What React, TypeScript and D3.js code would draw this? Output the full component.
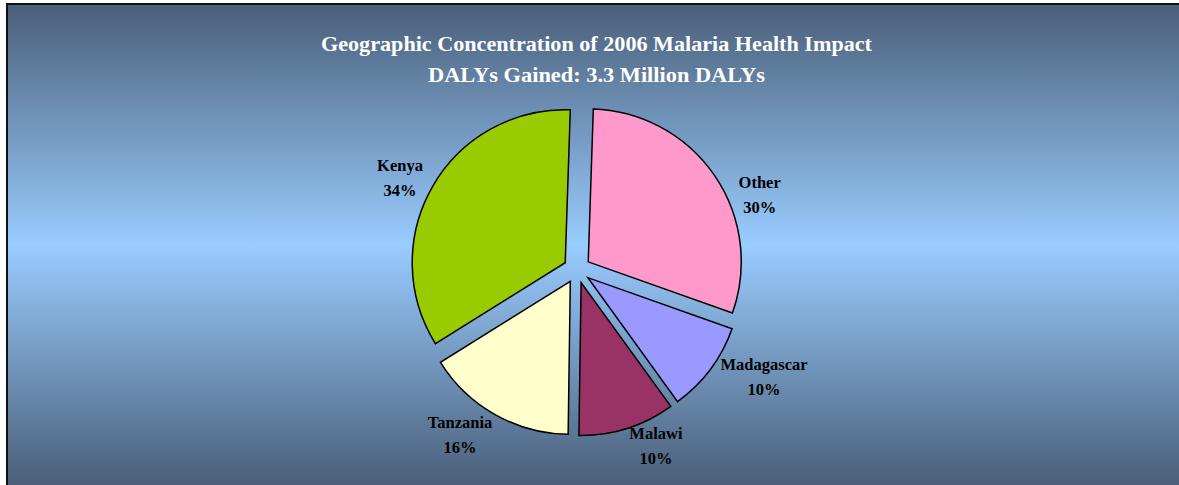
import React from "react";
import * as d3 from "d3";

// ---- data ----
const categories = ["Other", "Madagascar", "Malawi", "Tanzania", "Kenya"];
const shares = [29.9, 9.6, 10.2, 15.9, 34.4];
const titleLines = [
  "Geographic Concentration of 2006 Malaria Health Impact",
  "DALYs Gained: 3.3 Million DALYs",
];

// ---- styles / layout ----
const W = 1179;
const H = 485;
const sliceColors: Record<string, string> = {
  Other: "#ff99cc",
  Madagascar: "#9999ff",
  Malawi: "#993366",
  Tanzania: "#ffffcc",
  Kenya: "#99cc00",
};
const titleWidths = [551, 337];
// label block centre in polar coords (degrees clockwise from 12 o'clock, px from pie centre)
const labelLayout: Record<string, { angle: number; radius: number }> = {
  Other: { angle: 68, radius: 197 },
  Madagascar: { angle: 120, radius: 216 },
  Malawi: { angle: 156, radius: 194 },
  Tanzania: { angle: 215.2, radius: 203 },
  Kenya: { angle: 297.2, radius: 199 },
};
const cx = 577;
const cy = 269.5;
const R = 153;
const explode = 13.6;
const startDeg = 1.9;
const FONT = "'Liberation Serif', 'Times New Roman', serif";

export default function App() {
  const rad = (deg: number) => (deg * Math.PI) / 180;
  const pie = d3
    .pie<number>()
    .sort(null)
    .value((d) => d)
    .startAngle(rad(startDeg))
    .endAngle(rad(startDeg) + 2 * Math.PI);
  const arcs = pie(shares);
  const arcGen = d3.arc<d3.PieArcDatum<number>>().innerRadius(0).outerRadius(R);
  const total = d3.sum(shares);
  const fmt = d3.format(".0%");

  return (
    <div style={{ position: "absolute", left: 0, top: 0 }}>
      <svg width={W} height={H} style={{ display: "block" }}>
        <defs>
          <linearGradient id="bg" x1="0" y1="0" x2="0" y2="1">
            <stop offset="0" stopColor="#4a5f79" />
            <stop offset="0.5" stopColor="#99ccff" />
            <stop offset="1" stopColor="#4a5e78" />
          </linearGradient>
        </defs>
        <rect x={0} y={0} width={W} height={H} fill="#ffffff" />
        <rect x={7} y={4} width={W + 20} height={H - 4 + 1} fill="url(#bg)" stroke="#111" strokeWidth={2} />
        {titleLines.map((t, i) => (
          <text
            key={t}
            x={596.5}
            y={51 + i * 31}
            textAnchor="middle"
            fontFamily={FONT}
            fontWeight="bold"
            fontSize={22}
            textLength={titleWidths[i]}
            lengthAdjust="spacingAndGlyphs"
            fill="#ffffff"
          >
            {t}
          </text>
        ))}
        <g transform={`translate(${cx},${cy})`}>
          {arcs.map((a, i) => {
            const mid = (a.startAngle + a.endAngle) / 2;
            const [ox, oy] = d3.pointRadial(mid, explode);
            return (
              <path
                key={categories[i]}
                d={arcGen(a) || ""}
                transform={`translate(${ox},${oy})`}
                fill={sliceColors[categories[i]]}
                stroke="#000"
                strokeWidth={1.5}
                strokeLinejoin="miter"
              />
            );
          })}
          {arcs.map((a, i) => {
            const cat = categories[i];
            const lay = labelLayout[cat];
            const [lx, ly] = d3.pointRadial(rad(lay.angle), lay.radius);
            return (
              <text
                key={"l" + cat}
                textAnchor="middle"
                fontFamily={FONT}
                fontWeight="bold"
                fontSize={16.5}
                fill="#000"
              >
                <tspan x={lx} y={ly - 7.25}>
                  {cat}
                </tspan>
                <tspan x={lx} y={ly + 17.25}>
                  {fmt(a.value / total)}
                </tspan>
              </text>
            );
          })}
        </g>
      </svg>
    </div>
  );
}
